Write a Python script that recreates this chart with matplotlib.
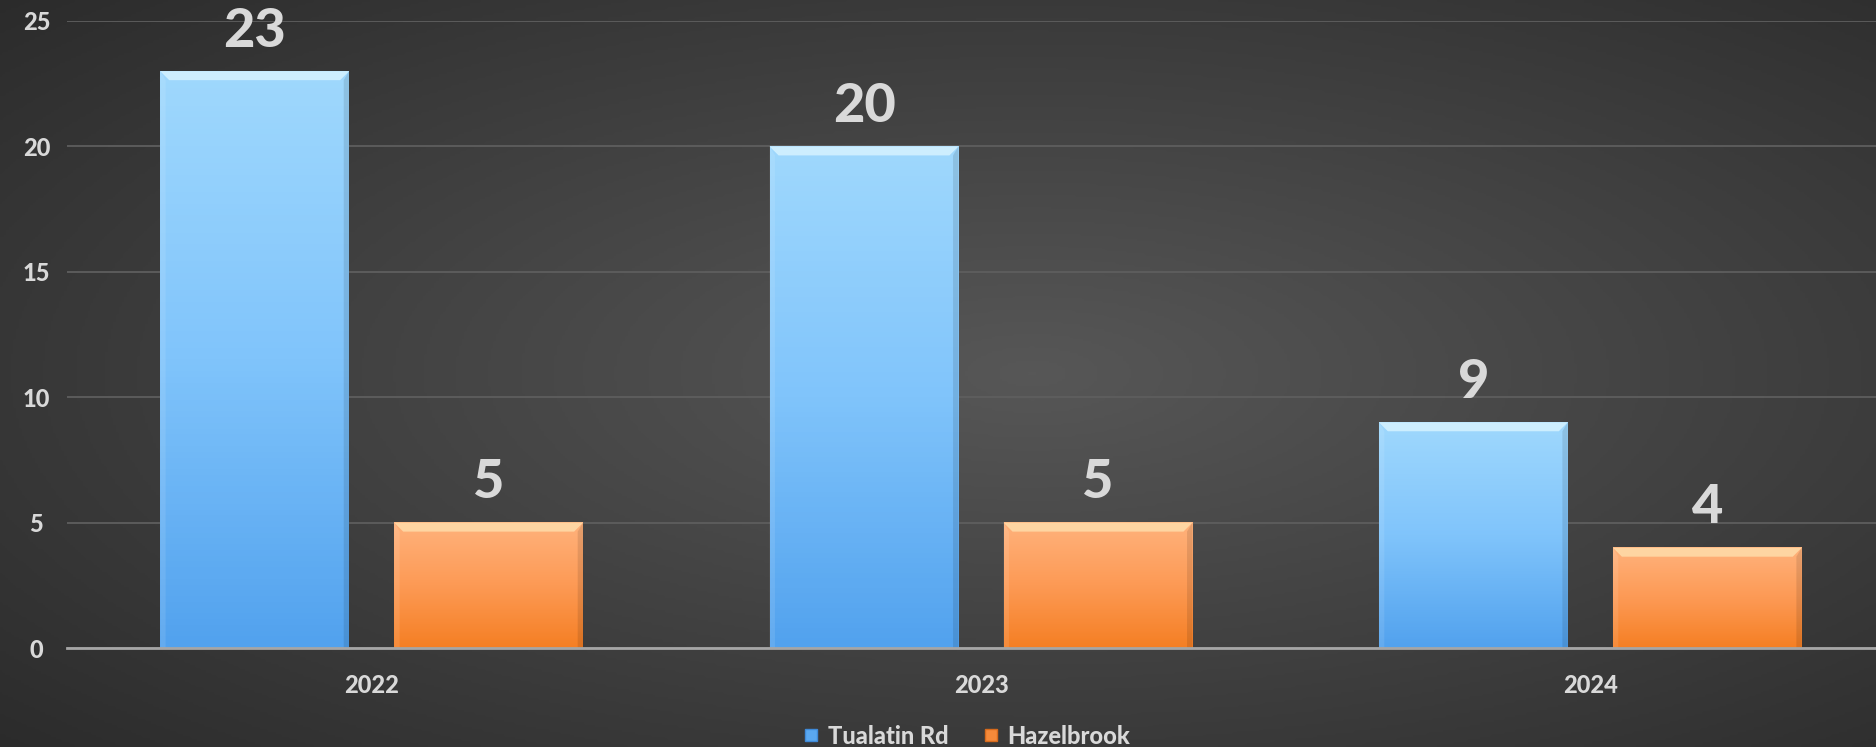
import numpy as np
import matplotlib
matplotlib.use("Agg")
import matplotlib.pyplot as plt
from matplotlib.colors import LinearSegmentedColormap
from matplotlib.patches import Polygon
from matplotlib.lines import Line2D
from matplotlib import font_manager as fm

years = ["2022", "2023", "2024"]
tualatin = [23, 20, 9]
hazelbrook = [5, 5, 4]
series_names = ["Tualatin Rd", "Hazelbrook"]

plt.rcParams['font.family'] = ['Lato', 'DejaVu Sans']
bold_path = fm.findfont(fm.FontProperties(family='Lato', weight='bold'))
for f in fm.fontManager.ttflist:
    if f.fname.endswith('Lato-Heavy.ttf'):
        bold_path = f.fname
        break


def bold(size):
    return fm.FontProperties(fname=bold_path, size=size)


txt = "#d9d9d9"

W, H = 1876, 747
fig = plt.figure(figsize=(W / 100, H / 100), dpi=100)

# radial background
bg = fig.add_axes([0, 0, 1, 1], zorder=0)
yy, xx = np.mgrid[0:1:300j, 0:1:700j]
r = np.sqrt(((xx - 0.55) / 0.75) ** 2 + ((yy - 0.5) / 0.75) ** 2)
r = np.clip(r, 0, 1)
bg_cmap = LinearSegmentedColormap.from_list("bg", ["#575757", "#2b2b2b"])
bg.imshow(r, cmap=bg_cmap, aspect="auto", extent=[0, 1, 0, 1], vmin=0, vmax=1)
bg.axis("off")

# axes: y=0 at px 648, y=25 at px 21; x from 67 to ~1895
ax_l = 67 / W
ax_w = (1895 - 67) / W
ax_b = (H - 648) / H
ax_h = (648 - 21) / H
ax = fig.add_axes([ax_l, ax_b, ax_w, ax_h], zorder=1)
ax.patch.set_alpha(0)
ax.set_xlim(-0.5, 2.5)
ax.set_ylim(0, 25)

x = np.arange(len(years))
bw = 0.31
off = 0.192
b1 = ax.bar(x - off, tualatin, bw, color="none", zorder=2)
b2 = ax.bar(x + off, hazelbrook, bw, color="none", zorder=2)

blue = LinearSegmentedColormap.from_list("blue", ["#52a2ee", "#80c4fb", "#9fd8fd"])
orange = LinearSegmentedColormap.from_list("orange", ["#f57f24", "#fd9a55", "#ffb27c"])
bevel_c = {"b": "#d6f3ff", "o": "#ffdcaa"}

px_per_unit = 627 / 25
px_per_x = 1828 / 3

for bars, cm, key in [(b1, blue, "b"), (b2, orange, "o")]:
    for p in bars:
        x0, y0 = p.get_x(), p.get_y()
        w, h = p.get_width(), p.get_height()
        grad = np.linspace(1, 0, 100).reshape(-1, 1)
        ax.imshow(grad, cmap=cm, aspect="auto", extent=[x0, x0 + w, y0, y0 + h],
                  zorder=2, vmin=0, vmax=1)
        bh = 9 / px_per_unit
        bx = 9 / px_per_x
        top = y0 + h
        ax.add_patch(Polygon([[x0, top], [x0 + w, top], [x0 + w - bx, top - bh],
                              [x0 + bx, top - bh]], closed=True,
                             facecolor=bevel_c[key], edgecolor="none", alpha=0.85, zorder=3))
        ax.add_patch(Polygon([[x0, y0], [x0, top], [x0 + bx * 0.6, top - bh], [x0 + bx * 0.6, y0]],
                             closed=True, facecolor="white", alpha=0.1, edgecolor="none", zorder=3))
        ax.add_patch(Polygon([[x0 + w, y0], [x0 + w, top], [x0 + w - bx * 0.6, top - bh],
                              [x0 + w - bx * 0.6, y0]],
                             closed=True, facecolor="black", alpha=0.1, edgecolor="none", zorder=3))
        ax.text(x0 + w / 2, top + 0.62, str(int(h)), ha="center", va="bottom",
                fontproperties=bold(39), color=txt, zorder=4)

ax.set_yticks([0, 5, 10, 15, 20, 25])
ax.set_xticks(x)
ax.set_xticklabels(years)
ax.yaxis.grid(True, color="#5e5e5e", linewidth=1.3)
ax.set_axisbelow(True)
for s in ["top", "right", "left"]:
    ax.spines[s].set_visible(False)
ax.spines["bottom"].set_color("#a6a6a6")
ax.spines["bottom"].set_linewidth(2)
ax.spines["bottom"].set_zorder(5)
ax.tick_params(axis="both", length=0, labelcolor=txt)
ax.tick_params(axis="x", pad=19)
ax.tick_params(axis="y", pad=22)
for lab in ax.get_xticklabels() + ax.get_yticklabels():
    lab.set_fontproperties(bold(17))
for lab in ax.get_yticklabels():
    lab.set_horizontalalignment("center")

handles = [Line2D([], [], marker="s", linestyle="none", markersize=9,
                  markerfacecolor="#5aa8f0", markeredgecolor="#3f8ad8"),
           Line2D([], [], marker="s", linestyle="none", markersize=9,
                  markerfacecolor="#f58a3a", markeredgecolor="#d66a1c")]
leg = fig.legend(handles, series_names, loc="center", bbox_to_anchor=(966 / W, 1 - 736 / H),
                 ncol=2, frameon=False, prop=bold(17), handletextpad=0.3, columnspacing=1.4,
                 handlelength=0.8)
for t in leg.get_texts():
    t.set_color(txt)

fig.savefig("out.png", dpi=100)
